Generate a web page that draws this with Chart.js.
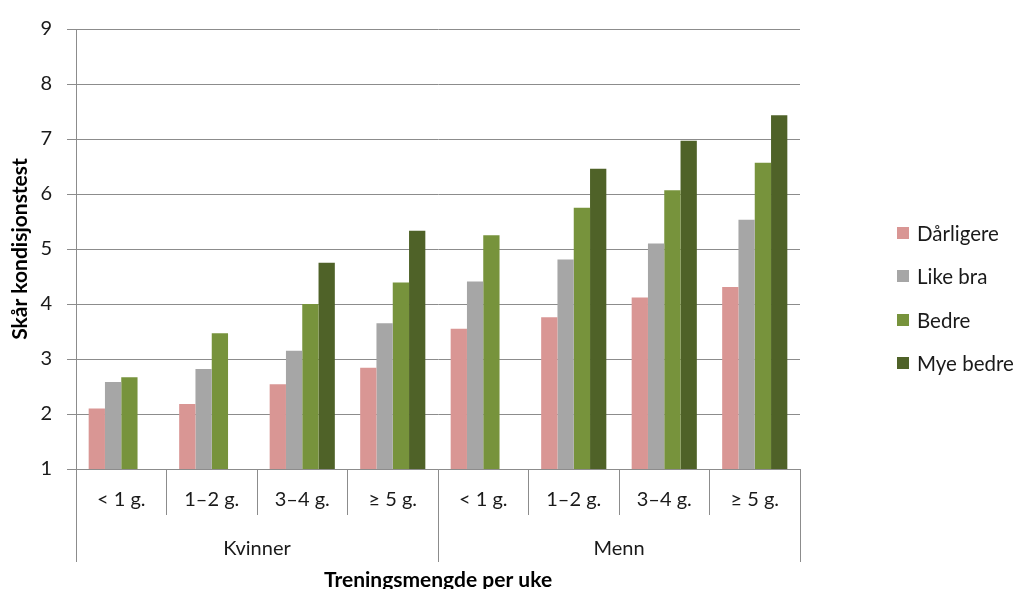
<!DOCTYPE html>
<html>
<head>
<meta charset="utf-8">
<script src="https://cdn.jsdelivr.net/npm/chart.js@4"></script>
<style>
    body { margin: 0; background: #fff; }
    #wrap { position: relative; width: 1024px; height: 589px; }
    #legend { position: absolute; left: 897px; top: 211px; font-family: Lato, sans-serif; font-size: 20.5px; color: #1a1a1a; }
    #legend .item { height: 43.5px; display: flex; align-items: center; white-space: nowrap; }
    #legend .box { display: inline-block; width: 12px; height: 12px; margin-right: 8px; }
</style>
</head>
<body>
<div id="wrap">
    <canvas id="fitnessChart" width="1024" height="589"></canvas>
    <div id="legend"></div>
</div>
<script>
const groups = ["Kvinner", "Menn"];
const frequency = ["< 1 g.", "1–2 g.", "3–4 g.", "≥ 5 g.", "< 1 g.", "1–2 g.", "3–4 g.", "≥ 5 g."];
const seriesNames = ["Dårligere", "Like bra", "Bedre", "Mye bedre"];
const worse = [2.10, 2.18, 2.54, 2.84, 3.55, 3.76, 4.12, 4.31];
const same = [2.58, 2.82, 3.15, 3.65, 4.41, 4.81, 5.10, 5.53];
const better = [2.67, 3.47, 4.00, 4.39, 5.25, 5.75, 6.07, 6.57];
const muchBetter = [null, null, 4.75, 5.33, null, 6.46, 6.97, 7.43];
const yTicks = [1, 2, 3, 4, 5, 6, 7, 8, 9];

const seriesColors = ["#D99694", "#A6A6A6", "#77933C", "#4F6228"];
const gridColor = "#8C8C8C";
const textColor = "#1a1a1a";

Chart.defaults.font.family = "Lato, sans-serif";

const values = [worse, same, better, muchBetter];

const chart = new Chart(document.getElementById("fitnessChart"), {
    type: "bar",
    data: {
        labels: frequency,
        datasets: seriesNames.map((name, i) => ({
            label: name,
            data: values[i],
            backgroundColor: seriesColors[i],
            borderWidth: 0,
            categoryPercentage: 0.72,
            barPercentage: 1
        }))
    },
    options: {
        responsive: false,
        animation: false,
        layout: {
            padding: { top: 29, right: 224, left: 0, bottom: 0 }
        },
        plugins: {
            legend: { display: false },
            tooltip: { enabled: false }
        },
        scales: {
            x: {
                grid: { drawOnChartArea: false, tickLength: 46, color: gridColor, offset: true },
                border: { color: gridColor },
                ticks: { padding: -27, color: textColor, font: { size: 20 }, maxRotation: 0, autoSkip: false },
                afterFit: function(scale) {
                    scale.height = 46;
                }
            },
            x2: {
                type: "category",
                labels: groups,
                position: "bottom",
                offset: true,
                grid: { drawOnChartArea: false, tickLength: 47, color: gridColor, offset: true },
                border: { display: false },
                ticks: { padding: -25, color: textColor, font: { size: 20 }, maxRotation: 0 },
                title: {
                    display: true,
                    text: "Treningsmengde per uke",
                    color: "#000",
                    font: { size: 21, weight: "bold" },
                    padding: { top: 0, bottom: -4 }
                },
                afterFit: function(scale) {
                    scale.height = 74;
                }
            },
            y: {
                min: yTicks[0],
                max: yTicks[yTicks.length - 1],
                afterBuildTicks: function(scale) {
                    scale.ticks = yTicks.map(v => ({ value: v }));
                },
                grid: { color: gridColor, tickLength: 9 },
                border: { color: gridColor },
                ticks: { padding: 15, color: textColor, font: { size: 20 } },
                title: {
                    display: true,
                    text: "Skår kondisjonstest",
                    color: "#000",
                    font: { size: 21, weight: "bold" },
                    padding: { top: 8, bottom: 0 }
                },
                afterFit: function(scale) {
                    scale.width = 76;
                }
            }
        }
    }
});

// legend as html, built from the datasets
const legend = document.getElementById("legend");
chart.data.datasets.forEach(ds => {
    const item = document.createElement("div");
    item.className = "item";
    const box = document.createElement("span");
    box.className = "box";
    box.style.background = ds.backgroundColor;
    item.appendChild(box);
    item.appendChild(document.createTextNode(ds.label));
    legend.appendChild(item);
});
</script>
</body>
</html>
